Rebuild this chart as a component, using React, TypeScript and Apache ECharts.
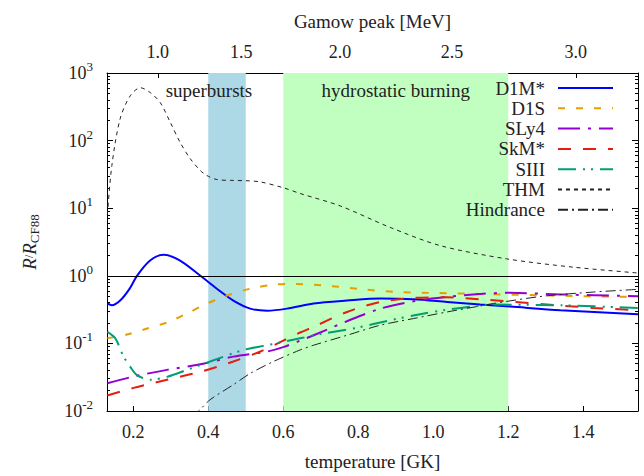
import React, { useEffect, useRef } from "react";
import * as echarts from "echarts";

const FONT = "'Liberation Serif', 'Times New Roman', serif";
const TXT = "#222";

// axis ticks
const xTicks = [0.2, 0.4, 0.6, 0.8, 1.0, 1.2, 1.4];
const gamowTicks = [1.0, 1.5, 2.0, 2.5, 3.0]; // MeV
const gamowCoef = 2.42; // E0 = 2.42 * T9^(2/3) MeV (12C+12C)
const yDecades = [-2, -1, 0, 1, 2, 3];
const minorMultipliers = [2, 3, 4, 5, 6, 7, 8, 9];

// shaded regions [T9 from, T9 to]
const superbursts: [number, number] = [0.4, 0.5];
const hydrostatic: [number, number] = [0.6, 1.2];

// series values: [T9, R/R_CF88]
const d1mStar = [
  [0.131, 0.39], [0.143, 0.366], [0.165, 0.43], [0.19, 0.64], [0.21, 1.0],
  [0.245, 1.68], [0.281, 2.04], [0.325, 1.68], [0.379, 1.0], [0.423, 0.644],
  [0.467, 0.43], [0.512, 0.327], [0.557, 0.305], [0.61, 0.327], [0.681, 0.39],
  [0.77, 0.43], [0.859, 0.46], [0.947, 0.449], [1.037, 0.41], [1.125, 0.375],
  [1.205, 0.35], [1.339, 0.31], [1.546, 0.27],
];
const d1s = [
  [0.131, 0.119], [0.183, 0.135], [0.237, 0.166], [0.29, 0.204], [0.343, 0.276],
  [0.397, 0.39], [0.45, 0.51], [0.512, 0.644], [0.574, 0.74], [0.619, 0.76],
  [0.707, 0.72], [0.814, 0.63], [0.903, 0.575], [1.01, 0.556], [1.125, 0.54],
  [1.312, 0.51], [1.546, 0.486],
];
const sly4 = [
  [0.131, 0.0257], [0.201, 0.0324], [0.29, 0.0406], [0.379, 0.049], [0.467, 0.0637],
  [0.557, 0.0758], [0.6, 0.088], [0.645, 0.11], [0.681, 0.132], [0.77, 0.213],
  [0.859, 0.327], [0.947, 0.42], [1.037, 0.486], [1.125, 0.54], [1.205, 0.56],
  [1.339, 0.53], [1.546, 0.5],
];
const skmStar = [
  [0.131, 0.017], [0.201, 0.022], [0.29, 0.029], [0.379, 0.038], [0.467, 0.054],
  [0.539, 0.076], [0.6, 0.11], [0.645, 0.145], [0.681, 0.176], [0.77, 0.292],
  [0.859, 0.41], [0.947, 0.47], [1.037, 0.48], [1.125, 0.45], [1.294, 0.38],
  [1.427, 0.335], [1.546, 0.31],
];
const siii = [
  [0.131, 0.148], [0.152, 0.119], [0.174, 0.064], [0.192, 0.045], [0.21, 0.034],
  [0.245, 0.029], [0.29, 0.032], [0.343, 0.0406], [0.405, 0.054], [0.494, 0.08],
  [0.557, 0.094], [0.645, 0.119], [0.707, 0.14], [0.796, 0.17], [0.885, 0.22],
  [0.965, 0.27], [1.037, 0.316], [1.116, 0.358], [1.161, 0.375], [1.339, 0.366],
  [1.546, 0.335],
];
const thm = [
  [0.131, 8], [0.143, 43], [0.165, 210], [0.192, 460], [0.219, 605],
  [0.245, 515], [0.272, 365], [0.299, 185], [0.325, 94], [0.352, 54],
  [0.379, 36], [0.396, 30.5], [0.423, 26.5], [0.46, 25.8], [0.5, 25.5],
  [0.539, 24.5], [0.601, 20], [0.645, 16.5], [0.752, 10.8], [0.885, 5.2],
  [1.019, 2.79], [1.196, 1.78], [1.374, 1.34], [1.546, 1.1],
];
const hindrance = [
  [0.355, 0.0085], [0.374, 0.01], [0.405, 0.0147], [0.467, 0.0245], [0.512, 0.036],
  [0.574, 0.054], [0.645, 0.08], [0.681, 0.094], [0.77, 0.132], [0.859, 0.186],
  [0.947, 0.233], [1.037, 0.292], [1.125, 0.358], [1.161, 0.39], [1.294, 0.5],
  [1.427, 0.575], [1.546, 0.63],
];

const seriesDefs = [
  { name: "D1M*", data: d1mStar, color: "#0000ff", width: 2, type: "solid" as any },
  { name: "D1S", data: d1s, color: "#e69f00", width: 2, type: [7, 11] },
  { name: "SLy4", data: sly4, color: "#9400d3", width: 2, type: [22, 8, 3, 8] },
  { name: "SkM*", data: skmStar, color: "#e51e10", width: 2, type: [13, 12] },
  { name: "SIII", data: siii, color: "#009e73", width: 2, type: [18, 7, 2, 6, 2, 7] },
  { name: "THM", data: thm, color: "#222222", width: 1, type: [4, 4] },
  { name: "Hindrance", data: hindrance, color: "#222222", width: 1, type: [10, 4, 2, 4] },
];

export default function App() {
  const ref = useRef<HTMLDivElement>(null);
  useEffect(() => {
    if (!ref.current) return;
    const chart = echarts.init(ref.current, null, { renderer: "svg" });
    const minorLog: number[] = [];
    for (let d = -2; d < 3; d++) for (const k of minorMultipliers) minorLog.push(d + Math.log10(k));
    const gamowT = gamowTicks.map((e) => Math.pow(e / gamowCoef, 1.5));
    const xMin = 0.13, xMax = 1.546;

    const helperY = (pos: string, vals: number[], len: number, line: boolean) => ({
      type: "value", position: pos, min: -2, max: 3,
      axisLine: { show: line, onZero: false, lineStyle: { color: "#000", width: 1 } },
      axisTick: { show: true, inside: true, length: len, customValues: vals, lineStyle: { color: "#000", width: 1 } },
      axisLabel: { show: false }, splitLine: { show: false },
    });

    chart.setOption({
      animation: false,
      backgroundColor: "#fff",
      textStyle: { fontFamily: FONT },
      grid: { left: 107, right: 6, top: 73, bottom: 63, containLabel: false },
      legend: {
        data: seriesDefs.map((s) => s.name),
        orient: "vertical", align: "right", right: 25, top: 73,
        itemWidth: 55, itemHeight: 14, itemGap: 0.3,
        itemStyle: { opacity: 0 },
        textStyle: { fontFamily: FONT, fontSize: 19, color: TXT, lineHeight: 20, padding: [0, 8, 0, 0] },
      },
      xAxis: [
        {
          type: "value", min: xMin, max: xMax, position: "bottom",
          axisLine: { onZero: false, lineStyle: { color: "#000", width: 1 } },
          axisTick: { inside: true, length: 5, customValues: xTicks, lineStyle: { color: "#000" } },
          axisLabel: { customValues: xTicks, formatter: (v: number) => v.toFixed(1), margin: 12, fontFamily: FONT, fontSize: 18, color: TXT },
          splitLine: { show: false },
          name: "temperature [GK]", nameLocation: "middle", nameGap: 41,
          nameTextStyle: { fontFamily: FONT, fontSize: 19, color: TXT },
        },
        {
          type: "value", min: xMin, max: xMax, position: "top",
          axisLine: { onZero: false, lineStyle: { color: "#000", width: 1 } },
          axisTick: { inside: true, length: 5, customValues: gamowT, lineStyle: { color: "#000" } },
          axisLabel: { customValues: gamowT, formatter: (v: number) => (gamowCoef * Math.pow(v, 2 / 3)).toFixed(1), margin: 12, fontFamily: FONT, fontSize: 18, color: TXT },
          splitLine: { show: false },
          name: "Gamow peak [MeV]", nameLocation: "middle", nameGap: 42,
          nameTextStyle: { fontFamily: FONT, fontSize: 19, color: TXT },
        },
      ],
      yAxis: [
        {
          type: "log", logBase: 10, min: 0.01, max: 1000, position: "left",
          axisLine: { show: true, onZero: false, lineStyle: { color: "#000", width: 1 } },
          axisTick: { show: false },
          axisLabel: {
            margin: 14,
            formatter: (v: number) => `{b|10}{s|${Math.round(Math.log10(v))}}`,
            rich: {
              b: { fontFamily: FONT, fontSize: 18, color: TXT, lineHeight: 26, verticalAlign: "middle" },
              s: { fontFamily: FONT, fontSize: 13, color: TXT, lineHeight: 10, verticalAlign: "top" },
            },
          },
          splitLine: { show: false },
          name: "{i|R}/{i|R}{sub|CF88}", nameLocation: "middle", nameGap: 66,
          nameTextStyle: {
            rich: {
              i: { fontFamily: FONT, fontSize: 19, fontStyle: "italic", color: TXT, lineHeight: 24, verticalAlign: "middle" },
              sub: { fontFamily: FONT, fontSize: 13, color: TXT, lineHeight: 10, verticalAlign: "bottom" },
            },
          },
        },
        helperY("left", yDecades, 6, false),
        helperY("left", minorLog, 3, false),
        helperY("right", yDecades, 6, true),
        helperY("right", minorLog, 3, false),
      ],
      series: [
        {
          type: "line", name: "regions", data: [], z: 1, silent: true,
          markArea: {
            silent: true,
            label: { position: "insideTop", distance: 8, fontFamily: FONT, fontSize: 19, color: TXT },
            data: [
              [{ xAxis: superbursts[0], itemStyle: { color: "#add8e6" }, label: { offset: [-18, 0] }, name: "superbursts" }, { xAxis: superbursts[1] }],
              [{ xAxis: hydrostatic[0], itemStyle: { color: "#c1ffc1" }, name: "hydrostatic burning" }, { xAxis: hydrostatic[1] }],
            ],
          },
          markLine: {
            silent: true, symbol: "none", label: { show: false },
            lineStyle: { color: "#000", width: 1, type: "solid" },
            data: [{ yAxis: 1 }],
          },
        },
        ...seriesDefs.map((s) => ({
          type: "line", name: s.name, data: s.data, smooth: 0.3, showSymbol: false, symbol: "none",
          z: 3, clip: true,
          lineStyle: { color: s.color, width: s.width, type: s.type },
          itemStyle: { color: s.color },
        })),
      ],
    });
    return () => chart.dispose();
  }, []);
  return <div ref={ref} style={{ width: 644, height: 476, position: "absolute", left: 0, top: 0 }} />;
}
